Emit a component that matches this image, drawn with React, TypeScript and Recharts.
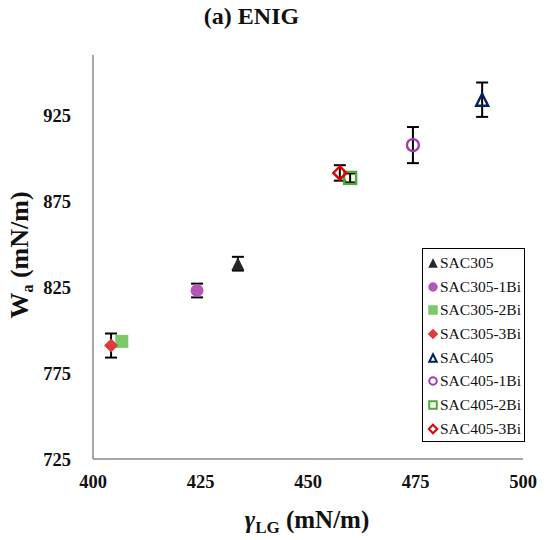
import { ScatterChart, Scatter, XAxis, YAxis, ErrorBar } from "recharts";

document.body.style.margin = "0";

const SERIES_NAMES = [
  "SAC305",
  "SAC305-1Bi",
  "SAC305-2Bi",
  "SAC305-3Bi",
  "SAC405",
  "SAC405-1Bi",
  "SAC405-2Bi",
  "SAC405-3Bi",
];
const GAMMA_LG = [433.7, 424.2, 406.7, 404.2, 490.5, 474.4, 459.8, 457.4];
const WORK_ADHESION = [838.6, 823, 793.4, 791, 934, 907.6, 888.5, 891.4];
const WA_ERROR = [4, 4, 2, 7, 10, 10.5, 2.6, 4.5];
const X_TICKS = [400, 425, 450, 475, 500];
const Y_TICKS = [725, 775, 825, 875, 925];

type Kind = "triangle" | "circle" | "square" | "diamond";

const MARKERS: { kind: Kind; color: string; filled: boolean }[] = [
  { kind: "triangle", color: "#262626", filled: true },
  { kind: "circle", color: "#b356b8", filled: true },
  { kind: "square", color: "#7dc86a", filled: true },
  { kind: "diamond", color: "#dd3c3c", filled: true },
  { kind: "triangle", color: "#002060", filled: false },
  { kind: "circle", color: "#a23aa8", filled: false },
  { kind: "square", color: "#4aab36", filled: false },
  { kind: "diamond", color: "#e00000", filled: false },
];

const FONT = "'Liberation Serif', 'Times New Roman', serif";
const AXIS_GRAY = "#898989";

const Marker = ({ cx, cy, index, size }: { cx: number; cy: number; index: number; size: number }) => {
  const { kind, color, filled } = MARKERS[index];
  const r = size / 2;
  const paint = filled
    ? { fill: color, stroke: "none" }
    : { fill: "none", stroke: color, strokeWidth: size > 10 ? 2.4 : 2 };
  const inset = filled ? 0 : 1;
  if (kind === "circle") return <circle cx={cx} cy={cy} r={r - inset} {...paint} />;
  if (kind === "square")
    return <rect x={cx - r + inset} y={cy - r + inset} width={size - 2 * inset} height={size - 2 * inset} {...paint} />;
  if (kind === "diamond") {
    const d = r - inset + 0.5;
    return <polygon points={`${cx},${cy - d} ${cx + d},${cy} ${cx},${cy + d} ${cx - d},${cy}`} {...paint} />;
  }
  const t = r - inset;
  return <polygon points={`${cx},${cy - t} ${cx + t},${cy + t} ${cx - t},${cy + t}`} {...paint} strokeLinejoin="miter" />;
};

const seriesData = SERIES_NAMES.map((name, i) => [
  { name, x: GAMMA_LG[i], y: WORK_ADHESION[i], err: WA_ERROR[i] },
]);
// all points again, so the error bars can be drawn above the markers
const allPoints = seriesData.flat();

const LegendBox = () => (
  <div
    style={{
      position: "absolute",
      left: 422,
      top: 248,
      border: "1.5px solid #000",
      background: "#fff",
      boxSizing: "border-box",
      width: 103,
      height: 194,
      padding: "2px 0 0 4px",
      fontFamily: FONT,
      fontSize: 15.5,
      color: "#111",
    }}
  >
    {SERIES_NAMES.map((name, i) => (
      <div key={name} style={{ display: "flex", alignItems: "center", height: 23.7 }}>
        <svg width={12} height={12} style={{ marginRight: 1 }}>
          <Marker cx={6} cy={6} index={i} size={9.5} />
        </svg>
        <span>{name}</span>
      </div>
    ))}
  </div>
);

export default function App() {
  return (
    <div style={{ position: "relative", width: 550, height: 540, background: "#fff" }}>
      <div
        style={{
          position: "absolute",
          top: 3,
          left: 0,
          width: 503,
          textAlign: "center",
          fontFamily: FONT,
          fontWeight: "bold",
          fontSize: 24,
          color: "#111",
        }}
      >
        (a) ENIG
      </div>
      <ScatterChart width={550} height={540} margin={{ top: 55, right: 27, bottom: 0, left: 0 }}>
        <XAxis
          type="number"
          dataKey="x"
          domain={[400, 500]}
          ticks={X_TICKS}
          height={81}
          axisLine={{ stroke: AXIS_GRAY, strokeWidth: 1.5 }}
          tickLine={false}
          tickSize={0}
          tickMargin={16}
          tick={{ fontFamily: FONT, fontWeight: "bold", fontSize: 18.5, fill: "#111" }}
          label={() => (
            <text x={307} y={528} textAnchor="middle" fontFamily={FONT} fontWeight="bold" fontSize={25} fill="#111">
              <tspan fontStyle="italic">γ</tspan>
              <tspan fontSize={17} dy={5}>LG</tspan>
              <tspan dy={-5}> (mN/m)</tspan>
            </text>
          )}
        />
        <YAxis
          type="number"
          dataKey="y"
          domain={[725, 960]}
          ticks={Y_TICKS}
          width={93}
          axisLine={{ stroke: AXIS_GRAY, strokeWidth: 1.5 }}
          tickLine={false}
          tickSize={0}
          tickMargin={22}
          tick={{ fontFamily: FONT, fontWeight: "bold", fontSize: 18.5, fill: "#111" }}
          label={() => (
            <text
              x={28}
              y={255}
              transform="rotate(-90 28 255)"
              textAnchor="middle"
              fontFamily={FONT}
              fontWeight="bold"
              fontSize={26}
              fill="#111"
            >
              <tspan>W</tspan>
              <tspan fontSize={16} dy={5}>a</tspan>
              <tspan dy={-5}> (mN/m)</tspan>
            </text>
          )}
        />
        {seriesData.map((data, i) => (
          <Scatter
            key={SERIES_NAMES[i]}
            name={SERIES_NAMES[i]}
            data={data}
            isAnimationActive={false}
            shape={(p: any) => (
              <Marker cx={p.cx} cy={p.cy} index={i} size={i < 4 ? 13 : 14} />
            )}
          />
        ))}
        <Scatter name="error" data={allPoints} isAnimationActive={false} shape={() => <g />}>
          <ErrorBar dataKey="err" direction="y" width={6} stroke="#000" strokeWidth={2} isAnimationActive={false} />
        </Scatter>
      </ScatterChart>
      <LegendBox />
    </div>
  );
}
